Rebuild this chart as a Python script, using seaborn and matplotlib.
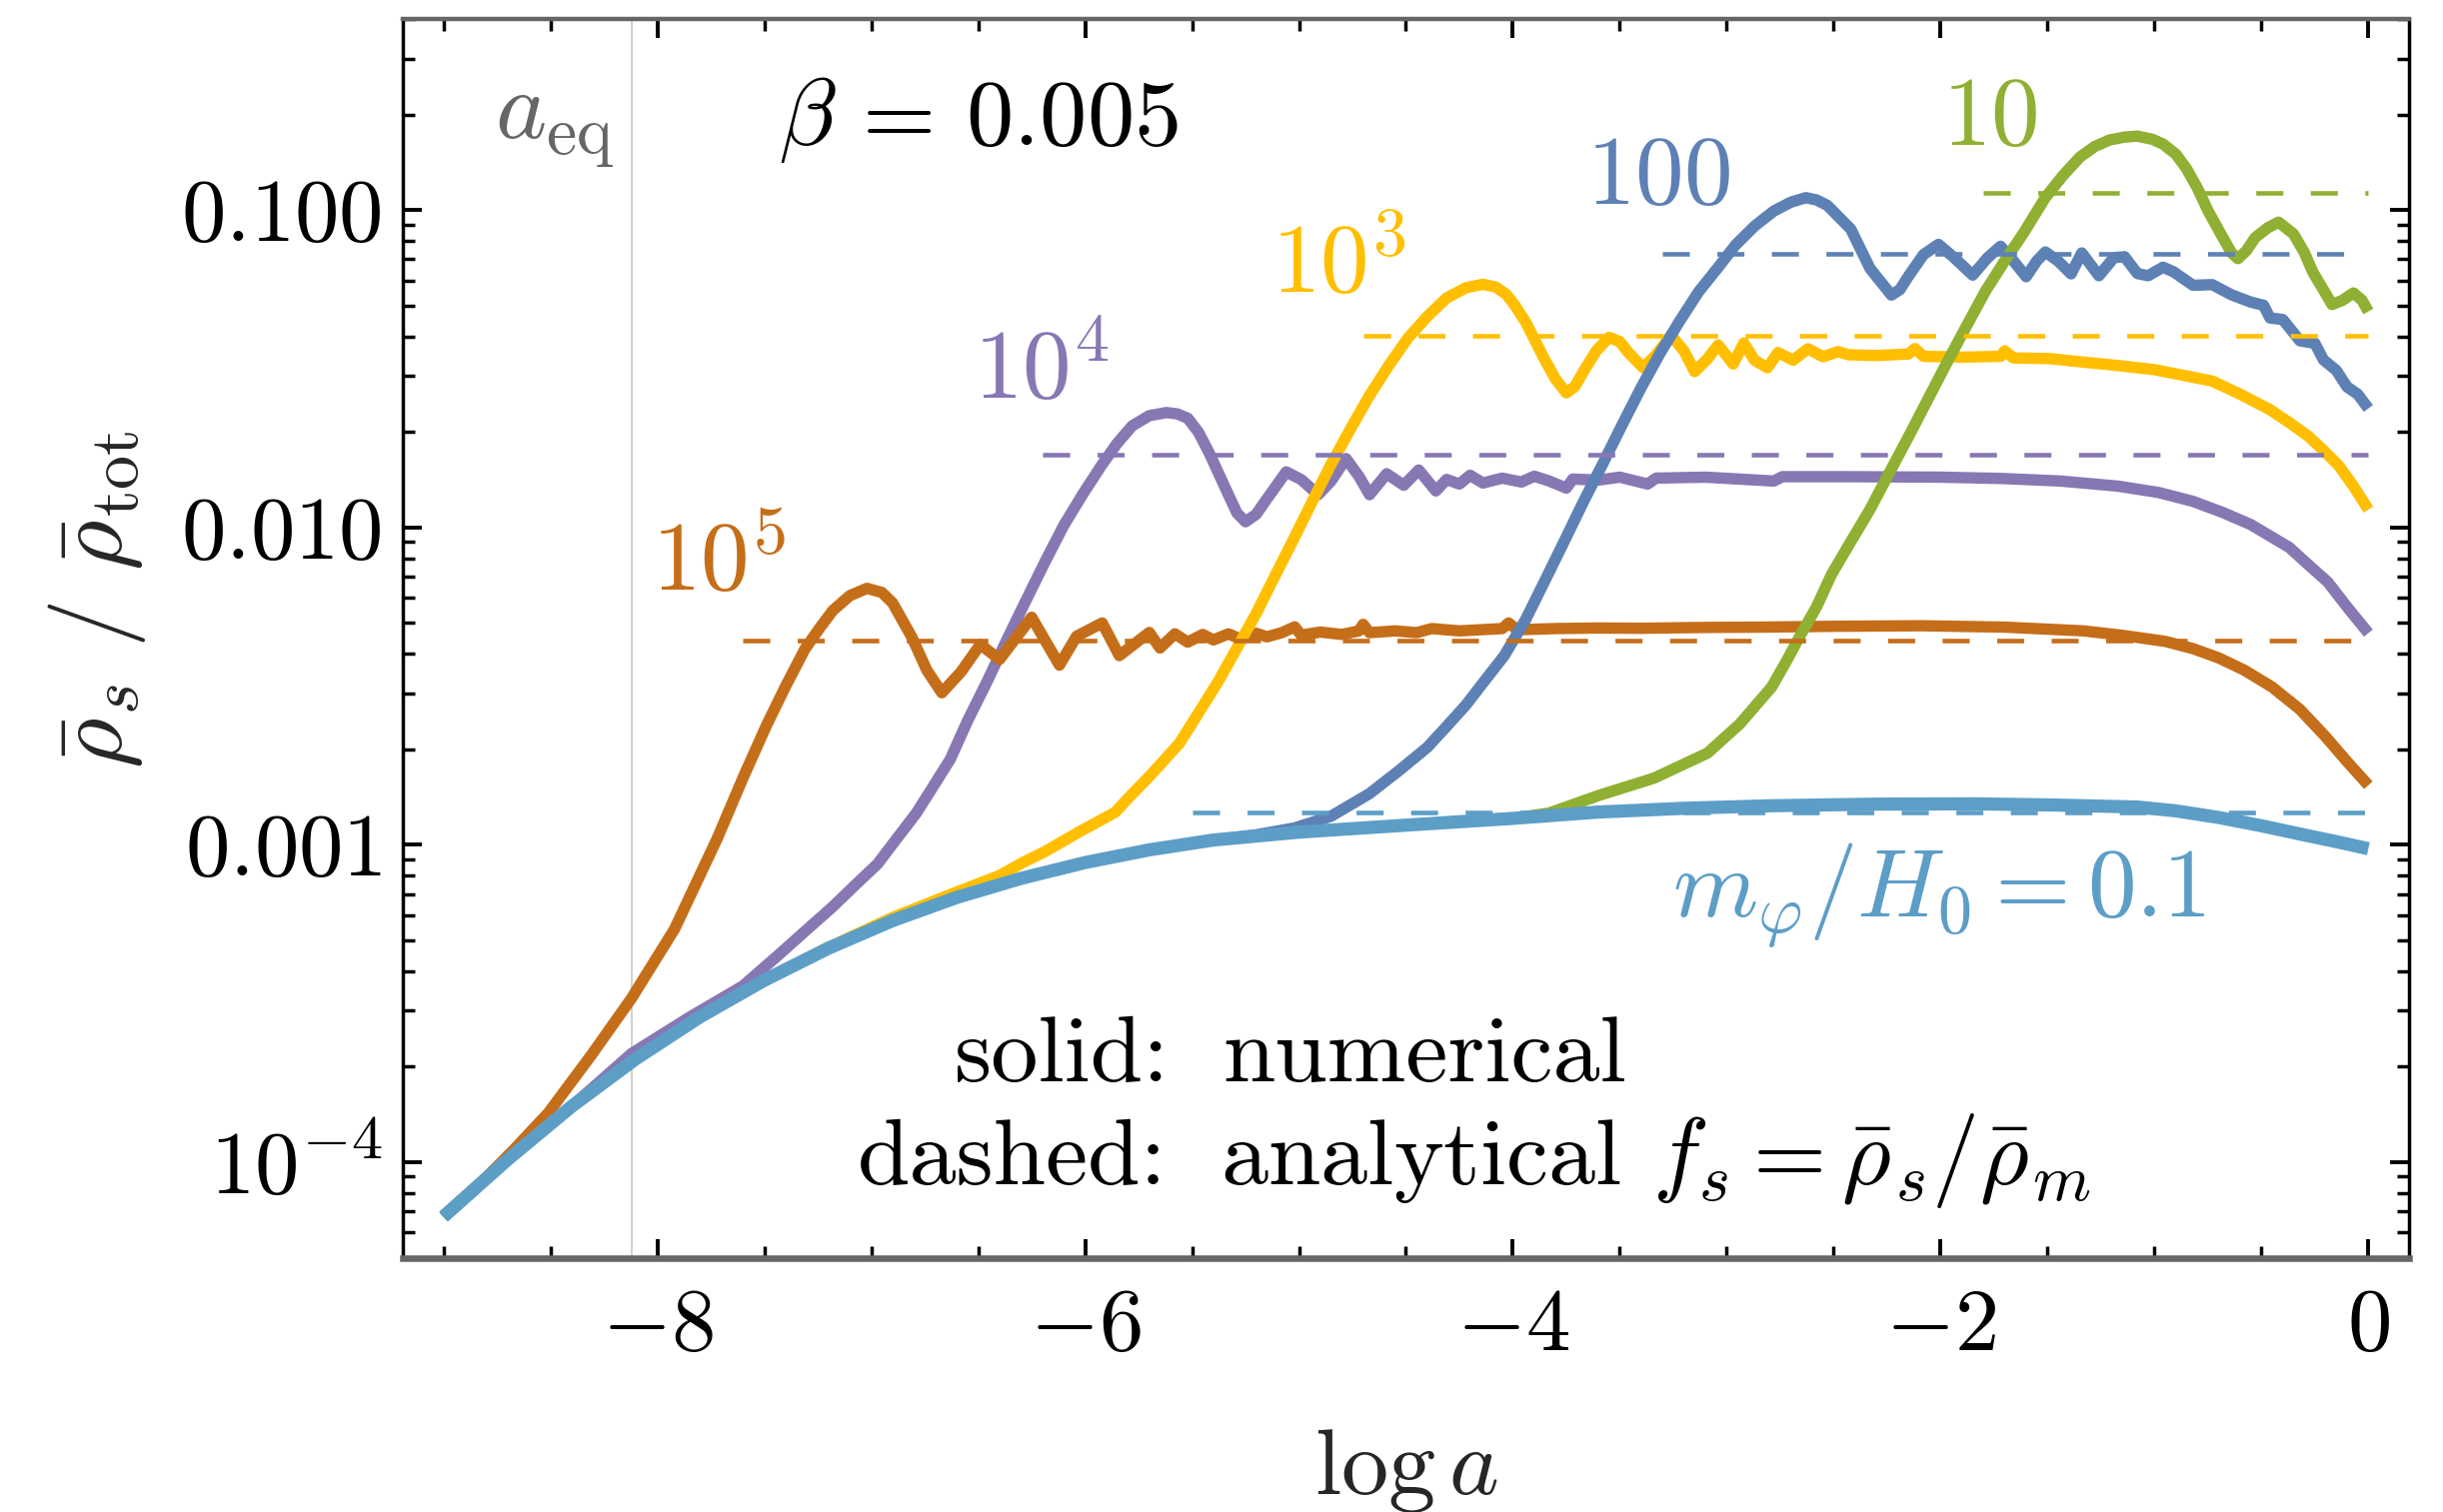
import matplotlib
matplotlib.use("Agg")
import matplotlib.pyplot as plt
from matplotlib.ticker import FixedLocator, FixedFormatter, LogLocator, MultipleLocator, NullFormatter
import seaborn as sns

# ---------------------------------------------------------------
# rho_s / rho_tot versus ln a, one series per m_phi / H0
# ---------------------------------------------------------------
lna_01 = [-9.00, -8.70, -8.40, -8.10, -7.80, -7.50, -7.20, -6.90, -6.60, -6.30, -6.00, -5.70,
          -5.40, -5.00, -4.50, -4.00, -3.60, -3.20, -2.80, -2.30, -1.83, -1.46, -1.08, -0.90,
          -0.70, -0.50, -0.32, -0.15, 0.00]
rho_01 = [6.73e-5, 1.019e-4, 1.500e-4, 2.118e-4, 2.871e-4, 3.741e-4, 4.721e-4, 5.768e-4,
          6.823e-4, 7.834e-4, 8.790e-4, 9.638e-4, 1.035e-3, 1.096e-3, 1.153e-3, 1.211e-3,
          1.268e-3, 1.303e-3, 1.327e-3, 1.343e-3, 1.346e-3, 1.334e-3, 1.315e-3, 1.279e-3,
          1.219e-3, 1.148e-3, 1.081e-3, 1.023e-3, 9.72e-4]

lna_10 = [-9.00, -8.70, -8.40, -8.10, -7.80, -7.50, -7.20, -6.90, -6.60, -6.30,
          -6.00, -5.70, -5.40, -5.00, -4.50, -4.00, -3.83, -3.60, -3.34, -3.09,
          -2.94, -2.87, -2.79, -2.72, -2.66, -2.58, -2.51, -2.42, -2.33, -2.24,
          -2.15, -2.06, -1.97, -1.88, -1.79, -1.70, -1.61, -1.51, -1.43, -1.35,
          -1.28, -1.21, -1.14, -1.08, -1.01, -0.96, -0.90, -0.85, -0.80, -0.75,
          -0.69, -0.64, -0.61, -0.57, -0.53, -0.47, -0.42, -0.35, -0.30, -0.26,
          -0.21, -0.17, -0.12, -0.07, -0.03, 0.00]
rho_10 = [6.73e-5, 1.019e-4, 1.500e-4, 2.118e-4, 2.871e-4, 3.741e-4, 4.721e-4, 5.768e-4, 6.823e-4, 7.834e-4,
          8.790e-4, 9.638e-4, 1.035e-3, 1.096e-3, 1.153e-3, 1.211e-3, 1.259e-3, 1.429e-3, 1.622e-3, 1.945e-3,
          2.399e-3, 2.72e-3, 3.141e-3, 3.80e-3, 4.519e-3, 5.62e-3, 7.112e-3, 9.02e-3, 1.140e-2, 1.486e-2,
          1.932e-2, 2.53e-2, 3.311e-2, 4.30e-2, 5.559e-2, 6.92e-2, 8.511e-2, 0.1096, 0.128, 0.1466,
          0.1585, 0.1663, 0.1698, 0.1710, 0.1671, 0.1614, 0.150, 0.1349, 0.1175, 0.0995,
          0.0841, 0.0733, 0.0703, 0.0745, 0.0818, 0.0880, 0.0916, 0.0841, 0.0736, 0.0638,
          0.0560, 0.0504, 0.0520, 0.0548, 0.0520, 0.0479]

lna_100 = [-9.00, -8.70, -8.40, -8.10, -7.80, -7.50, -7.20, -6.90, -6.60, -6.30,
           -6.00, -5.70, -5.40, -5.20, -5.02, -4.85, -4.67, -4.53, -4.40, -4.31,
           -4.22, -4.13, -4.04, -3.94, -3.83, -3.75, -3.67, -3.58, -3.49, -3.40,
           -3.31, -3.22, -3.13, -3.04, -2.96, -2.87, -2.78, -2.70, -2.63, -2.58,
           -2.53, -2.42, -2.33, -2.23, -2.19, -2.15, -2.08, -2.01, -1.94, -1.85,
           -1.78, -1.72, -1.66, -1.60, -1.55, -1.51, -1.45, -1.39, -1.34, -1.26,
           -1.19, -1.14, -1.08, -1.03, -0.96, -0.91, -0.82, -0.73, -0.64, -0.55,
           -0.49, -0.46, -0.40, -0.32, -0.25, -0.21, -0.15, -0.10, -0.05, 0.00]
rho_100 = [6.73e-5, 1.019e-4, 1.500e-4, 2.118e-4, 2.871e-4, 3.741e-4, 4.721e-4, 5.768e-4, 6.823e-4, 7.834e-4,
           8.790e-4, 9.638e-4, 1.035e-3, 1.075e-3, 1.13e-3, 1.23e-3, 1.45e-3, 1.718e-3, 2.028e-3, 2.36e-3,
           2.754e-3, 3.30e-3, 3.945e-3, 5.13e-3, 7.24e-3, 9.33e-3, 1.205e-2, 1.585e-2, 2.099e-2, 2.76e-2,
           3.556e-2, 4.47e-2, 5.546e-2, 6.6e-2, 7.745e-2, 8.9e-2, 9.931e-2, 0.1059, 0.1094, 0.1076,
           0.1035, 8.71e-2, 6.546e-2, 5.395e-2, 5.62e-2, 6.194e-2, 7.24e-2, 7.798e-2, 7.112e-2, 6.237e-2,
           7.08e-2, 7.691e-2, 6.92e-2, 6.166e-2, 6.92e-2, 7.379e-2, 6.9e-2, 6.295e-2, 7.328e-2, 6.209e-2,
           7.079e-2, 7.129e-2, 6.310e-2, 6.209e-2, 6.607e-2, 6.383e-2, 5.794e-2, 5.821e-2, 5.408e-2, 5.129e-2,
           5.012e-2, 4.571e-2, 4.519e-2, 3.873e-2, 3.802e-2, 3.373e-2, 3.126e-2, 2.773e-2, 2.630e-2, 2.371e-2]

lna_1e3 = [-9.00, -8.70, -8.40, -8.10, -7.80, -7.50, -7.20, -6.90, -6.60, -6.40,
           -6.29, -6.19, -6.03, -5.86, -5.78, -5.70, -5.63, -5.56, -5.47, -5.38,
           -5.29, -5.20, -5.11, -5.02, -4.94, -4.85, -4.76, -4.67, -4.58, -4.49,
           -4.40, -4.31, -4.22, -4.14, -4.08, -4.03, -3.99, -3.94, -3.85, -3.80,
           -3.75, -3.71, -3.67, -3.61, -3.55, -3.50, -3.46, -3.39, -3.33, -3.26,
           -3.20, -3.15, -3.09, -3.04, -2.97, -2.92, -2.87, -2.81, -2.76, -2.69,
           -2.62, -2.55, -2.48, -2.43, -2.30, -2.15, -2.12, -2.08, -1.89, -1.72,
           -1.70, -1.66, -1.49, -1.35, -1.17, -1.00, -0.86, -0.73, -0.60, -0.46,
           -0.37, -0.28, -0.21, -0.14, -0.07, 0.00]
rho_1e3 = [6.73e-5, 1.019e-4, 1.500e-4, 2.118e-4, 2.871e-4, 3.741e-4, 4.75e-4, 5.90e-4, 7.10e-4, 8.0e-4,
           8.8e-4, 9.5e-4, 1.096e-3, 1.265e-3, 1.445e-3, 1.641e-3, 1.849e-3, 2.084e-3, 2.60e-3, 3.251e-3,
           4.17e-3, 5.358e-3, 7.08e-3, 9.33e-3, 1.20e-2, 1.581e-2, 2.04e-2, 2.606e-2, 3.24e-2, 3.954e-2,
           4.62e-2, 5.284e-2, 5.69e-2, 5.834e-2, 5.72e-2, 5.420e-2, 5.0e-2, 4.436e-2, 3.365e-2, 2.93e-2,
           2.655e-2, 2.78e-2, 3.097e-2, 3.6e-2, 3.972e-2, 3.85e-2, 3.556e-2, 3.184e-2, 3.5e-2, 4.027e-2,
           3.6e-2, 3.097e-2, 3.4e-2, 3.758e-2, 3.273e-2, 3.811e-2, 3.365e-2, 3.184e-2, 3.556e-2, 3.365e-2,
           3.656e-2, 3.451e-2, 3.58e-2, 3.50e-2, 3.48e-2, 3.52e-2, 3.66e-2, 3.46e-2, 3.44e-2, 3.46e-2,
           3.60e-2, 3.42e-2, 3.404e-2, 3.327e-2, 3.236e-2, 3.141e-2, 3.01e-2, 2.891e-2, 2.63e-2, 2.350e-2,
           2.14e-2, 1.936e-2, 1.75e-2, 1.570e-2, 1.35e-2, 1.138e-2]

lna_1e4 = [-9.00, -8.70, -8.40, -8.12, -7.85, -7.60, -7.42, -7.30, -7.18, -7.08,
           -6.97, -6.88, -6.79, -6.71, -6.63, -6.55, -6.46, -6.37, -6.28, -6.19,
           -6.10, -6.01, -5.92, -5.85, -5.78, -5.70, -5.62, -5.57, -5.52, -5.47,
           -5.42, -5.33, -5.29, -5.25, -5.20, -5.15, -5.06, -4.99, -4.91, -4.85,
           -4.78, -4.72, -4.67, -4.59, -4.51, -4.44, -4.36, -4.31, -4.25, -4.20,
           -4.14, -4.05, -3.96, -3.90, -3.83, -3.75, -3.72, -3.60, -3.50, -3.37,
           -3.33, -3.10, -2.78, -2.74, -2.43, -2.00, -1.71, -1.44, -1.17, -0.98,
           -0.82, -0.68, -0.55, -0.46, -0.37, -0.28, -0.19, -0.10, 0.00]
rho_1e4 = [6.73e-5, 1.019e-4, 1.500e-4, 2.20e-4, 2.86e-4, 3.59e-4, 4.58e-4, 5.41e-4, 6.38e-4, 7.41e-4,
           8.71e-4, 1.047e-3, 1.256e-3, 1.528e-3, 1.862e-3, 2.455e-3, 3.251e-3, 4.365e-3, 5.821e-3, 7.73e-3,
           1.014e-2, 1.276e-2, 1.581e-2, 1.841e-2, 2.089e-2, 2.25e-2, 2.301e-2, 2.28e-2, 2.208e-2, 1.995e-2,
           1.718e-2, 1.268e-2, 1.11e-2, 1.042e-2, 1.10e-2, 1.230e-2, 1.496e-2, 1.416e-2, 1.268e-2, 1.40e-2,
           1.648e-2, 1.45e-2, 1.268e-2, 1.476e-2, 1.358e-2, 1.517e-2, 1.303e-2, 1.416e-2, 1.37e-2, 1.46e-2,
           1.38e-2, 1.43e-2, 1.39e-2, 1.45e-2, 1.40e-2, 1.33e-2, 1.42e-2, 1.41e-2, 1.44e-2, 1.37e-2,
           1.43e-2, 1.44e-2, 1.40e-2, 1.445e-2, 1.445e-2, 1.44e-2, 1.426e-2, 1.40e-2, 1.349e-2, 1.288e-2,
           1.208e-2, 1.114e-2, 1.021e-2, 9.40e-3, 8.65e-3, 7.62e-3, 6.73e-3, 5.62e-3, 4.645e-3]

lna_1e5 = [-9.00, -8.80, -8.67, -8.51, -8.31, -8.12, -7.92, -7.82, -7.72, -7.60,
           -7.49, -7.40, -7.31, -7.24, -7.18, -7.10, -7.02, -6.95, -6.90, -6.81,
           -6.74, -6.67, -6.58, -6.49, -6.40, -6.25, -6.12, -6.04, -5.92, -5.84,
           -5.70, -5.65, -5.58, -5.52, -5.45, -5.40, -5.33, -5.28, -5.20, -5.15,
           -5.08, -5.02, -4.99, -4.90, -4.80, -4.72, -4.70, -4.67, -4.55, -4.45,
           -4.38, -4.25, -4.05, -4.02, -3.98, -3.80, -3.60, -3.40, -3.10, -2.84,
           -2.50, -2.09, -1.70, -1.33, -1.15, -0.95, -0.82, -0.70, -0.58, -0.45,
           -0.32, -0.20, -0.10, 0.00]
rho_1e5 = [6.76e-5, 8.95e-5, 1.096e-4, 1.429e-4, 2.168e-4, 3.289e-4, 5.42e-4, 7.53e-4, 1.047e-3, 1.622e-3,
           2.377e-3, 3.162e-3, 4.14e-3, 4.83e-3, 5.47e-3, 6.095e-3, 6.427e-3, 6.237e-3, 5.781e-3, 4.508e-3,
           3.548e-3, 3.013e-3, 3.508e-3, 4.276e-3, 3.837e-3, 5.212e-3, 3.681e-3, 4.539e-3, 5.000e-3, 3.945e-3,
           4.667e-3, 4.169e-3, 4.62e-3, 4.35e-3, 4.60e-3, 4.42e-3, 4.62e-3, 4.47e-3, 4.64e-3, 4.52e-3,
           4.66e-3, 4.86e-3, 4.58e-3, 4.68e-3, 4.60e-3, 4.72e-3, 4.95e-3, 4.66e-3, 4.72e-3, 4.66e-3,
           4.80e-3, 4.72e-3, 4.80e-3, 5.00e-3, 4.76e-3, 4.80e-3, 4.82e-3, 4.81e-3, 4.84e-3, 4.85e-3,
           4.88e-3, 4.90e-3, 4.85e-3, 4.72e-3, 4.57e-3, 4.375e-3, 4.15e-3, 3.88e-3, 3.55e-3, 3.14e-3,
           2.67e-3, 2.19e-3, 1.83e-3, 1.54e-3]

# analytical f_s = rho_s / rho_m (dashed), order: 10, 100, 1e3, 1e4, 1e5, 0.1
an_start = [-1.80, -3.30, -4.70, -6.20, -7.60, -5.50]
an_level = [0.1133, 0.0726, 0.0401, 0.0169, 0.00441, 0.001265]

lna_eq = -8.12

x_ticks = [-8, -6, -4, -2, 0]
x_tick_labels = [r"$-8$", r"$-6$", r"$-4$", r"$-2$", r"$0$"]
y_ticks = [1e-4, 1e-3, 1e-2, 1e-1]
y_tick_labels = [r"$10^{-4}$", r"$0.001$", r"$0.010$", r"$0.100$"]

# colours
c_green = "#8FB032"
c_blue = "#5E81B5"
c_yellow = "#FFBF00"
c_purple = "#8778B3"
c_brown = "#C56E1A"
c_light = "#5D9EC7"
an_colors = [c_green, c_blue, c_yellow, c_purple, c_brown, c_light]

# ---------------------------------------------------------------
sns.set_theme(style="ticks")
plt.rcParams["font.family"] = ["cmr10", "DejaVu Serif"]
plt.rcParams["mathtext.fontset"] = "cm"
plt.rcParams["axes.formatter.use_mathtext"] = True
plt.rcParams["axes.unicode_minus"] = True

W, H = 2444, 1513
fig = plt.figure(figsize=(W / 100, H / 100), dpi=100)
fig.patch.set_facecolor("white")
ax = fig.add_axes([403 / W, 1 - 1258.5 / H, 2007 / W, 1239.5 / H])
ax.set_facecolor("white")
ax.set_yscale("log")

ax.axvline(lna_eq, color="#d2d2d2", lw=1.5, zorder=1)

solid = [
    (lna_1e4, rho_1e4, c_purple, 8.2),
    (lna_1e5, rho_1e5, c_brown, 8.2),
    (lna_1e3, rho_1e3, c_yellow, 8.2),
    (lna_100, rho_100, c_blue, 8.2),
    (lna_10, rho_10, c_green, 8.2),
    (lna_01, rho_01, c_light, 9.5),
]
for k, (xs, ys, col, lw) in enumerate(solid):
    sns.lineplot(x=xs, y=ys, ax=ax, color=col, linewidth=lw, estimator=None,
                 sort=False, solid_capstyle="butt", solid_joinstyle="round", zorder=2 + 0.1 * k)

for s, lvl, col in zip(an_start, an_level, an_colors):
    sns.lineplot(x=[s, 0.0], y=[lvl, lvl], ax=ax, color=col, linewidth=3.3,
                 linestyle=(0, (5.9, 6.0)), estimator=None, sort=False, zorder=4)

ax.set_xlim(-9.19, 0.19)
ax.set_ylim(5e-5, 0.4)

ax.xaxis.set_major_locator(FixedLocator(x_ticks))
ax.xaxis.set_major_formatter(FixedFormatter(x_tick_labels))
ax.xaxis.set_minor_locator(MultipleLocator(0.5))
ax.yaxis.set_major_locator(FixedLocator(y_ticks))
ax.yaxis.set_major_formatter(FixedFormatter(y_tick_labels))
ax.yaxis.set_minor_locator(LogLocator(base=10, subs=[2, 3, 4, 5, 6, 7, 8, 9], numticks=30))
ax.yaxis.set_minor_formatter(NullFormatter())

ax.tick_params(which="both", direction="in", top=True, right=True, colors="black")
ax.tick_params(which="major", length=13.7, width=2.8, labelsize=64)
ax.tick_params(which="minor", length=8.6, width=2.5)
ax.tick_params(axis="x", which="major", pad=22)
ax.tick_params(axis="y", which="major", pad=15)

for side in ("left", "right"):
    ax.spines[side].set_color("black")
    ax.spines[side].set_linewidth(2.5)
ax.spines["top"].set_color("#666666")
ax.spines["top"].set_linewidth(3.2)
ax.spines["bottom"].set_color("#666666")
ax.spines["bottom"].set_linewidth(4.7)

ax.set_xlabel(r"$\log a$", fontsize=68)
ax.xaxis.set_label_coords(0.5, -0.1908)
ax.xaxis.label.set_va("baseline")
ax.set_ylabel(r"$\bar{\rho}_s\ /\ \bar{\rho}_{\mathrm{tot}}$", fontsize=70)
ax.yaxis.set_label_coords(-0.1525, 0.531)
ax.yaxis.label.set_va("center")

txt = dict(ha="left", va="baseline", zorder=6)
ax.text(-8.761, 0.1686, r"$a_{\mathrm{eq}}$", color="#666666", fontsize=70, **txt)
ax.text(-7.433, 0.1602, r"$\beta\,=\,0.005$", color="black", fontsize=68, **txt)
ax.text(-1.992, 0.1602, r"$10$", color=c_green, fontsize=70, **txt)
ax.text(-3.656, 0.1044, r"$100$", color=c_blue, fontsize=70, **txt)
ax.text(-5.129, 0.05478, r"$10^3$", color=c_yellow, fontsize=70, **txt)
ax.text(-6.522, 0.02539, r"$10^4$", color=c_purple, fontsize=70, **txt)
ax.text(-8.027, 0.00631, r"$10^5$", color=c_brown, fontsize=70, **txt)
ax.text(-3.254, 5.93e-4, r"$m_\varphi/H_0 = 0.1$", color=c_light, fontsize=70, **txt)

ax.text(-5.605, 1.792e-4, "solid:", color="black", fontsize=68, ha="right", va="baseline")
ax.text(-5.355, 1.792e-4, "numerical", color="black", fontsize=68, ha="left", va="baseline")
ax.text(-5.618, 8.52e-5, "dashed:", color="black", fontsize=68, ha="right", va="baseline")
ax.text(-5.367, 8.52e-5, r"analytical $f_s = \bar{\rho}_s/\bar{\rho}_m$", color="black",
        fontsize=68, ha="left", va="baseline")

fig.savefig("out.png", dpi=100, facecolor="white")
